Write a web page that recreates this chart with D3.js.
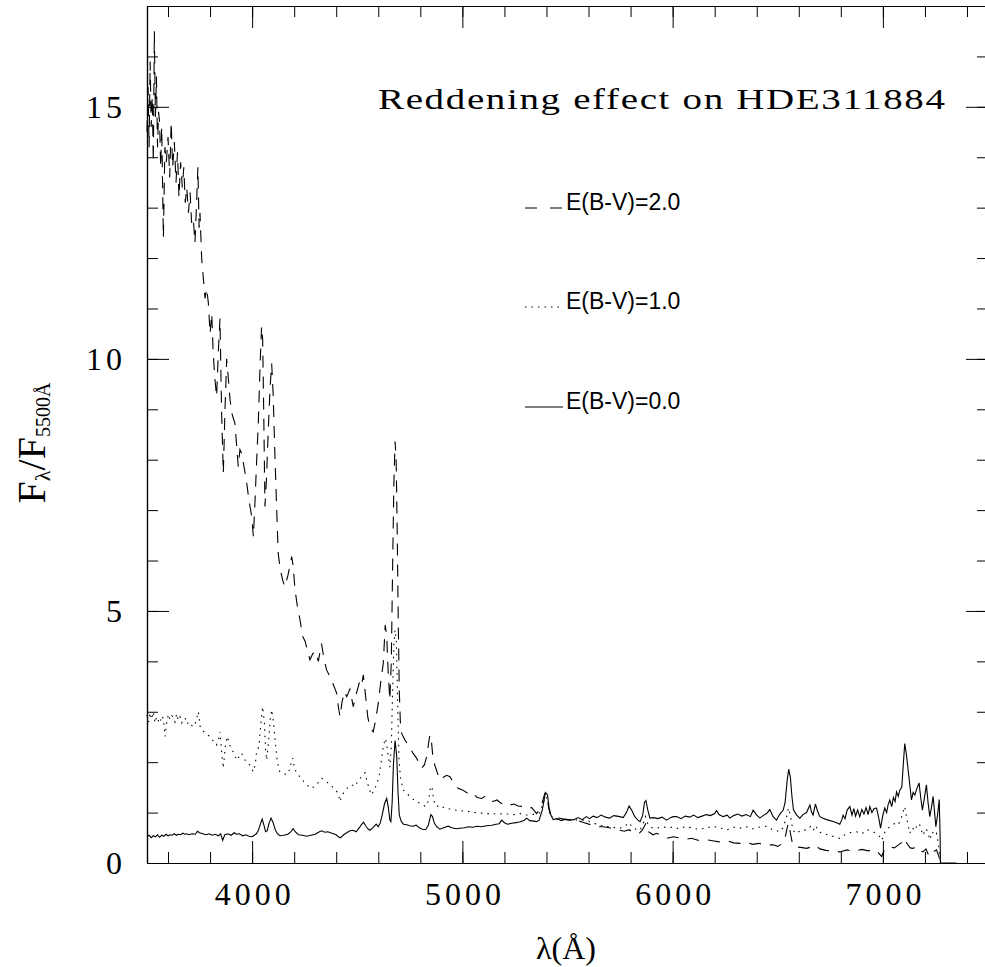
<!DOCTYPE html>
<html>
<head>
<meta charset="utf-8">
<script src="https://cdn.jsdelivr.net/npm/d3@7"></script>
<style>
  body { margin: 0; background: #fff; }
  svg { display: block; }
</style>
</head>
<body>
<div id="chart"></div>
<script>
// spectra of HDE311884, normalised at 5500 A: [wavelength, flux ratio]
const ebv00 = [
  [3500,0.52],[3510,0.55],[3520,0.50],[3530,0.54],[3540,0.52],[3550,0.56],[3560,0.51],[3570,0.55],[3580,0.53],[3590,0.57],
  [3600,0.54],[3610,0.56],[3620,0.55],[3630,0.58],[3640,0.55],[3650,0.57],[3660,0.56],[3670,0.59],[3680,0.57],[3690,0.58],
  [3700,0.56],[3715,0.58],[3730,0.57],[3740,0.63],[3750,0.60],[3765,0.58],[3780,0.56],[3795,0.58],[3810,0.55],[3825,0.57],
  [3840,0.54],[3850,0.58],[3860,0.45],[3870,0.56],[3885,0.58],[3900,0.55],[3915,0.60],[3925,0.57],[3940,0.58],[3955,0.54],
  [3970,0.56],[3985,0.53],[4000,0.52],[4010,0.55],[4020,0.58],[4030,0.65],[4040,0.78],[4048,0.87],[4056,0.75],[4064,0.62],
  [4072,0.64],[4080,0.78],[4090,0.89],[4100,0.80],[4110,0.66],[4120,0.58],[4132,0.54],[4150,0.55],[4170,0.57],[4185,0.62],
  [4195,0.68],[4205,0.62],[4220,0.56],[4240,0.55],[4260,0.53],[4280,0.55],[4300,0.57],[4320,0.62],[4332,0.64],[4345,0.61],
  [4360,0.62],[4380,0.59],[4400,0.56],[4410,0.52],[4420,0.50],[4435,0.56],[4450,0.60],[4465,0.64],[4480,0.65],[4495,0.62],
  [4510,0.70],[4520,0.76],[4530,0.81],[4540,0.74],[4550,0.68],[4560,0.65],[4575,0.70],[4590,0.77],[4600,0.72],[4610,0.80],
  [4620,0.98],[4630,1.18],[4640,1.28],[4648,1.10],[4655,0.85],[4660,0.82],[4666,1.20],[4672,1.95],[4680,2.43],[4688,2.10],
  [4694,1.40],[4700,0.95],[4710,0.82],[4720,0.77],[4735,0.76],[4750,0.74],[4765,0.73],[4780,0.75],[4795,0.70],[4810,0.67],
  [4825,0.66],[4838,0.75],[4850,0.96],[4858,0.92],[4866,0.80],[4878,0.72],[4893,0.67],[4910,0.70],[4933,0.73],[4950,0.70],
  [4970,0.68],[4988,0.69],[5010,0.70],[5030,0.72],[5050,0.71],[5070,0.73],[5090,0.72],[5115,0.74],[5140,0.75],[5160,0.77],
  [5175,0.78],[5187,0.85],[5200,0.80],[5215,0.77],[5235,0.79],[5255,0.80],[5275,0.82],[5295,0.85],[5306,0.89],[5320,0.84],
  [5340,0.83],[5353,0.82],[5365,0.85],[5380,1.05],[5395,1.40],[5405,1.35],[5415,1.00],[5432,0.86],[5450,0.88],[5470,0.84],
  [5490,0.87],[5511,0.85],[5530,0.86],[5550,0.90],[5570,0.86],[5590,0.92],[5605,0.88],[5622,0.93],[5640,0.90],[5660,0.95],
  [5680,0.91],[5700,0.89],[5720,0.94],[5749,0.92],[5765,0.90],[5780,1.00],[5793,1.13],[5805,1.05],[5820,0.92],[5835,0.85],
  [5845,0.82],[5858,0.95],[5866,1.20],[5873,1.24],[5882,1.05],[5892,0.89],[5910,0.90],[5930,0.88],[5950,0.91],[5971,0.85],
  [5990,0.90],[6003,0.92],[6019,0.92],[6040,0.88],[6060,0.93],[6082,0.91],[6100,0.95],[6120,0.90],[6140,0.93],[6160,0.96],
  [6180,0.94],[6200,0.98],[6209,1.04],[6220,0.96],[6240,0.92],[6260,0.95],[6272,0.89],[6290,0.94],[6310,0.97],[6330,0.93],
  [6350,0.96],[6370,0.92],[6383,1.05],[6400,0.95],[6415,0.89],[6430,0.94],[6447,0.98],[6462,1.06],[6478,0.92],[6494,0.85],
  [6510,0.97],[6526,1.05],[6535,1.20],[6545,1.65],[6552,1.86],[6560,1.70],[6568,1.30],[6575,1.05],[6590,0.95],[6605,0.89],
  [6620,0.96],[6637,1.00],[6653,1.15],[6660,1.02],[6668,0.95],[6679,1.17],[6690,1.02],[6700,0.92],[6720,0.88],[6740,0.85],
  [6760,0.83],[6780,0.80],[6795,0.77],[6805,0.86],[6811,0.95],[6820,0.88],[6830,1.05],[6843,1.12],[6853,0.95],[6862,1.08],
  [6870,0.93],[6880,1.05],[6890,0.92],[6900,1.06],[6910,0.97],[6920,1.10],[6930,0.96],[6938,1.12],[6948,1.00],[6958,1.08],
  [6970,1.09],[6980,0.90],[6989,0.69],[7000,0.95],[7009,1.09],[7018,1.00],[7025,1.16],[7033,1.25],[7042,1.12],[7050,1.30],
  [7058,1.22],[7065,1.41],[7073,1.32],[7081,1.45],[7090,1.50],[7097,1.95],[7104,2.37],[7112,2.15],[7120,1.85],[7128,1.55],
  [7136,1.25],[7144,1.40],[7152,1.35],[7162,1.48],[7172,1.59],[7180,1.30],[7188,1.05],[7198,1.30],[7207,1.55],[7215,1.20],
  [7223,0.92],[7231,1.10],[7239,1.32],[7246,1.00],[7252,0.72],[7260,0.95],[7268,1.26],[7272,0.60],[7274,0.0],[7350,0.0]
];

const ebv10 = [
  [3500,2.94],[3508,2.80],[3515,2.98],[3522,2.85],[3530,3.00],[3538,2.78],[3546,2.90],[3554,2.82],[3562,2.77],[3570,2.92],
  [3578,2.86],[3586,2.51],[3594,2.80],[3602,2.95],[3610,2.84],[3618,2.92],[3625,2.90],[3633,2.80],[3641,2.96],[3649,2.83],
  [3657,2.90],[3665,2.78],[3673,2.84],[3681,2.88],[3690,2.76],[3700,2.80],[3710,2.74],[3720,2.70],[3730,2.78],[3738,2.90],
  [3744,3.00],[3752,2.72],[3760,2.64],[3772,2.60],[3785,2.55],[3800,2.51],[3815,2.42],[3831,2.34],[3840,2.45],[3847,2.60],
  [3855,2.20],[3863,1.88],[3872,2.30],[3882,2.51],[3892,2.35],[3905,2.25],[3915,2.15],[3927,2.04],[3940,2.12],[3950,2.18],
  [3960,2.08],[3970,2.02],[3980,1.98],[3990,1.94],[4005,1.81],[4015,1.95],[4022,2.24],[4032,2.30],[4040,2.70],[4050,3.10],
  [4058,2.80],[4064,2.25],[4069,2.04],[4078,2.40],[4086,2.85],[4093,3.04],[4100,2.85],[4109,2.44],[4120,2.00],[4132,1.81],
  [4148,1.78],[4164,1.75],[4178,1.85],[4188,2.02],[4193,2.08],[4200,1.90],[4212,1.78],[4230,1.70],[4245,1.62],[4259,1.55],
  [4270,1.52],[4283,1.48],[4300,1.53],[4315,1.60],[4331,1.68],[4345,1.64],[4358,1.60],[4370,1.55],[4385,1.50],[4400,1.44],
  [4410,1.35],[4418,1.22],[4428,1.35],[4440,1.42],[4455,1.50],[4473,1.55],[4490,1.52],[4500,1.60],[4513,1.68],[4525,1.72],
  [4537,1.79],[4548,1.60],[4558,1.45],[4568,1.35],[4580,1.45],[4592,1.55],[4605,1.75],[4615,2.05],[4625,2.35],[4635,2.47],
  [4645,2.20],[4655,1.90],[4662,2.30],[4668,3.40],[4675,4.40],[4680,4.62],[4686,4.40],[4692,3.20],[4698,2.10],[4705,1.70],
  [4719,1.45],[4735,1.38],[4751,1.32],[4770,1.25],[4785,1.22],[4798,1.18],[4812,1.15],[4827,1.12],[4840,1.25],[4848,1.50],
  [4855,1.52],[4862,1.30],[4870,1.15],[4878,1.12],[4893,1.15],[4910,1.10],[4930,1.08],[4956,1.06],[4980,1.04],[5010,1.03],
  [5036,1.02],[5060,1.00],[5090,0.99],[5115,0.98],[5140,0.98],[5165,0.97],[5194,0.98],[5220,0.97],[5250,0.96],[5274,0.98],
  [5300,0.95],[5330,0.96],[5353,0.97],[5370,1.00],[5385,1.20],[5397,1.32],[5407,1.25],[5418,0.98],[5432,0.88],[5460,0.87],
  [5490,0.86],[5520,0.86],[5560,0.85],[5591,0.85],[5620,0.80],[5645,0.76],[5670,0.73],[5700,0.72],[5730,0.70],[5749,0.69],
  [5770,0.72],[5793,0.80],[5810,0.70],[5830,0.66],[5844,0.65],[5860,0.78],[5871,0.92],[5882,0.78],[5900,0.70],[5924,0.69],
  [5950,0.72],[5975,0.70],[6003,0.71],[6030,0.68],[6060,0.72],[6090,0.70],[6120,0.67],[6161,0.69],[6190,0.73],[6220,0.70],
  [6260,0.66],[6290,0.71],[6320,0.69],[6350,0.72],[6380,0.68],[6410,0.71],[6447,0.73],[6475,0.66],[6495,0.64],[6510,0.62],
  [6525,0.70],[6540,0.88],[6551,1.09],[6560,0.95],[6570,0.70],[6581,0.59],[6600,0.62],[6620,0.66],[6637,0.65],[6655,0.72],
  [6668,0.64],[6680,0.74],[6695,0.62],[6720,0.58],[6745,0.55],[6770,0.52],[6795,0.49],[6815,0.55],[6840,0.60],[6875,0.62],
  [6900,0.58],[6925,0.66],[6954,0.62],[6980,0.55],[6995,0.45],[7010,0.62],[7033,0.72],[7055,0.78],[7070,0.75],[7081,0.82],
  [7092,0.95],[7104,1.12],[7115,0.85],[7128,0.59],[7140,0.70],[7152,0.64],[7165,0.78],[7176,0.75],[7190,0.55],[7205,0.68],
  [7215,0.60],[7223,0.46],[7235,0.62],[7245,0.55],[7255,0.59],[7263,0.40],[7271,0.16],[7273,0.0]
];

const ebv20 = [
  [3500,14.5],[3505,15.4],[3510,14.2],[3515,15.9],[3520,14.6],[3525,15.2],[3530,13.9],[3535,16.5],[3540,14.8],[3545,15.6],
  [3550,14.2],[3555,14.9],[3560,14.7],[3565,13.8],[3570,14.6],[3578,12.4],[3585,14.2],[3592,13.9],[3600,14.4],[3608,13.6],
  [3615,14.7],[3622,13.8],[3630,14.3],[3638,13.5],[3645,14.1],[3652,13.2],[3660,13.9],[3668,13.4],[3675,13.8],[3682,13.1],
  [3689,13.4],[3697,12.9],[3705,13.3],[3712,12.7],[3720,12.8],[3728,12.3],[3735,13.0],[3742,13.8],[3748,12.6],[3752,12.9],
  [3760,12.0],[3768,11.6],[3776,11.2],[3784,11.4],[3792,11.1],[3800,10.5],[3808,10.9],[3815,10.1],[3823,9.6],[3831,9.25],
  [3840,10.2],[3847,10.8],[3855,8.9],[3863,7.73],[3871,9.0],[3879,10.0],[3887,9.6],[3895,9.19],[3905,8.9],[3918,8.72],
  [3926,8.3],[3934,7.86],[3942,8.2],[3950,8.13],[3960,7.9],[3968,7.7],[3974,7.54],[3985,7.2],[3998,6.87],[4006,6.47],
  [4013,7.1],[4021,7.93],[4030,8.8],[4038,9.9],[4045,10.64],[4050,10.4],[4055,9.0],[4061,7.07],[4068,7.6],[4076,8.5],
  [4085,9.4],[4093,9.91],[4100,9.3],[4109,8.0],[4117,7.0],[4124,6.14],[4135,5.8],[4146,5.6],[4156,5.48],[4170,5.7],
  [4180,5.9],[4188,6.08],[4195,5.9],[4204,5.42],[4215,5.1],[4228,4.82],[4240,4.5],[4252,4.4],[4264,4.2],[4275,4.03],
  [4288,4.15],[4300,4.2],[4315,4.0],[4330,4.35],[4340,4.1],[4354,3.83],[4370,3.7],[4385,3.55],[4402,3.37],[4410,3.1],
  [4418,2.90],[4428,3.2],[4440,3.4],[4450,3.30],[4465,3.45],[4481,3.10],[4495,3.35],[4505,3.5],[4513,3.63],[4521,3.55],
  [4529,3.73],[4540,3.3],[4550,2.9],[4560,2.70],[4568,2.65],[4576,2.60],[4588,2.85],[4600,3.17],[4612,3.6],[4624,3.97],
  [4633,4.72],[4640,4.5],[4647,3.8],[4655,3.23],[4662,4.0],[4668,5.8],[4674,7.5],[4680,8.36],[4685,8.0],[4690,6.6],
  [4695,4.8],[4700,3.4],[4705,2.8],[4711,2.57],[4727,2.44],[4740,2.35],[4751,2.28],[4765,2.18],[4782,2.08],[4795,1.98],
  [4806,1.88],[4820,1.95],[4832,2.15],[4840,2.40],[4846,2.54],[4852,2.45],[4860,2.10],[4869,1.94],[4880,1.80],[4893,1.65],
  [4910,1.70],[4925,1.74],[4941,1.71],[4960,1.58],[4980,1.48],[5000,1.45],[5020,1.40],[5036,1.35],[5050,1.38],[5070,1.30],
  [5092,1.28],[5110,1.33],[5125,1.25],[5147,1.22],[5165,1.25],[5185,1.18],[5205,1.20],[5226,1.15],[5245,1.17],[5265,1.13],
  [5290,1.12],[5310,1.08],[5330,1.10],[5353,0.98],[5365,1.05],[5380,1.20],[5392,1.38],[5401,1.38],[5410,1.10],[5422,0.95],
  [5432,0.92],[5450,0.90],[5470,0.88],[5490,0.86],[5520,0.85],[5550,0.84],[5580,0.80],[5610,0.76],[5640,0.72],[5670,0.72],
  [5700,0.70],[5720,0.67],[5749,0.65],[5770,0.63],[5793,0.66],[5810,0.61],[5830,0.58],[5844,0.60],[5860,0.68],[5873,0.79],
  [5885,0.62],[5907,0.56],[5924,0.59],[5950,0.54],[5971,0.49],[6003,0.52],[6030,0.50],[6060,0.47],[6090,0.49],[6120,0.45],
  [6161,0.46],[6190,0.44],[6220,0.42],[6260,0.44],[6290,0.40],[6320,0.39],[6350,0.41],[6380,0.37],[6410,0.39],[6440,0.36],
  [6478,0.36],[6500,0.33],[6520,0.38],[6535,0.50],[6545,0.70],[6551,0.79],[6560,0.60],[6570,0.38],[6581,0.32],[6610,0.31],
  [6637,0.29],[6660,0.32],[6680,0.35],[6700,0.28],[6730,0.25],[6760,0.24],[6795,0.22],[6830,0.26],[6860,0.23],[6900,0.27],
  [6930,0.24],[6954,0.27],[6975,0.22],[6994,0.13],[7010,0.28],[7033,0.32],[7055,0.30],[7080,0.38],[7095,0.42],[7104,0.49],
  [7115,0.38],[7130,0.30],[7144,0.29],[7160,0.33],[7176,0.26],[7191,0.22],[7205,0.28],[7215,0.18],[7223,0.13],[7240,0.22],
  [7255,0.26],[7265,0.15],[7271,0.05],[7273,0.0]
];

const xMajor = [4000, 5000, 6000, 7000];
const yMajor = [0, 5, 10, 15];
const legendLabels = ["E(B-V)=2.0", "E(B-V)=1.0", "E(B-V)=0.0"];

const width = 985, height = 967;
const margin = { left: 147, right: 988, top: 6, bottom: 863 };

const x = d3.scaleLinear().domain([3500, 7500]).range([margin.left, margin.right]);
const y = d3.scaleLinear().domain([0, 17]).range([margin.bottom, margin.top]);

const svg = d3.select("#chart").append("svg")
  .attr("width", width)
  .attr("height", height)
  .style("background", "#fff");

const serif = "'Liberation Serif', 'Times New Roman', serif";

// axes: major ticks 22px, minor 11px, all pointing inward
function styleAxis(g) {
  g.selectAll("path.domain").attr("stroke", "#000").attr("stroke-width", 1.2);
  g.selectAll("line").attr("stroke", "#000").attr("stroke-width", 1);
}

svg.append("g").attr("transform", `translate(0,${margin.bottom})`)
  .call(d3.axisBottom(x).tickValues(x.ticks(20)).tickSize(-11).tickSizeOuter(0).tickFormat(""))
  .call(styleAxis);
svg.append("g").attr("transform", `translate(0,${margin.bottom})`)
  .call(d3.axisBottom(x).tickValues(xMajor).tickSize(-22).tickSizeOuter(0).tickPadding(19).tickFormat(d3.format("d")))
  .call(styleAxis)
  .call(g => g.selectAll("text")
    .attr("font-family", serif).attr("font-size", 32).attr("fill", "#000")
    .attr("letter-spacing", 4).attr("dx", 2));

svg.append("g").attr("transform", `translate(0,${margin.top})`)
  .call(d3.axisTop(x).tickValues(x.ticks(20)).tickSize(-11).tickSizeOuter(0).tickFormat(""))
  .call(styleAxis);
svg.append("g").attr("transform", `translate(0,${margin.top})`)
  .call(d3.axisTop(x).tickValues(xMajor).tickSize(-22).tickSizeOuter(0).tickFormat(""))
  .call(styleAxis);

svg.append("g").attr("transform", `translate(${margin.left},0)`)
  .call(d3.axisLeft(y).tickValues(y.ticks(17)).tickSize(-11).tickSizeOuter(0).tickFormat(""))
  .call(styleAxis);
svg.append("g").attr("transform", `translate(${margin.left},0)`)
  .call(d3.axisLeft(y).tickValues(yMajor).tickSize(-22).tickSizeOuter(0).tickPadding(21).tickFormat(d3.format("d")))
  .call(styleAxis)
  .call(g => g.selectAll("text")
    .attr("font-family", serif).attr("font-size", 32).attr("fill", "#000")
    .attr("letter-spacing", 4).attr("dy", "0.34em"));

svg.append("g").attr("transform", `translate(${margin.right},0)`)
  .call(d3.axisRight(y).tickValues(y.ticks(17)).tickSize(-11).tickSizeOuter(0).tickFormat(""))
  .call(styleAxis);
svg.append("g").attr("transform", `translate(${margin.right},0)`)
  .call(d3.axisRight(y).tickValues(yMajor).tickSize(-22).tickSizeOuter(0).tickFormat(""))
  .call(styleAxis);

// spectra
const line = d3.line().x(d => x(d[0])).y(d => y(d[1]));

const series = [
  { data: ebv20, dash: "12,9" },
  { data: ebv10, dash: "1.5,5" },
  { data: ebv00, dash: null }
];

svg.append("g")
  .selectAll("path")
  .data(series)
  .join("path")
  .attr("d", d => line(d.data))
  .attr("fill", "none")
  .attr("stroke", "#000")
  .attr("stroke-width", 1.1)
  .attr("stroke-dasharray", d => d.dash);

// legend
const legendY = [208, 307, 407];
const legendDash = ["12,13", "1.5,5", null];
const legend = svg.append("g");
legendLabels.forEach((lab, i) => {
  legend.append("line")
    .attr("x1", 525).attr("x2", 563)
    .attr("y1", legendY[i]).attr("y2", legendY[i])
    .attr("stroke", "#000").attr("stroke-width", 1)
    .attr("stroke-dasharray", legendDash[i]);
  legend.append("text")
    .attr("x", 566).attr("y", legendY[i] + 2)
    .attr("font-family", "'Liberation Sans', Arial, sans-serif")
    .attr("font-size", 23)
    .text(lab);
});

// title: wide typewriter-like lettering, stretched horizontally
svg.append("text")
  .attr("transform", "translate(378,109) scale(1.3,1)")
  .attr("font-family", serif)
  .attr("font-size", 30)
  .attr("textLength", 567 / 1.3)
  .attr("lengthAdjust", "spacing")
  .text("Reddening effect on HDE311884");

// axis labels
svg.append("text")
  .attr("x", 566).attr("y", 959)
  .attr("text-anchor", "middle")
  .attr("font-family", serif)
  .attr("font-size", 32)
  .text("λ(Å)");

const ylab = svg.append("text")
  .attr("transform", "translate(45,443) rotate(-90)")
  .attr("text-anchor", "middle")
  .attr("font-family", serif)
  .attr("font-size", 40);
ylab.append("tspan").text("F");
ylab.append("tspan").attr("font-size", 22).attr("dy", 5).text("λ");
ylab.append("tspan").attr("dy", -5).text("/");
ylab.append("tspan").text("F");
ylab.append("tspan").attr("font-size", 20).attr("dy", 5).text("5500Å");
</script>
</body>
</html>
